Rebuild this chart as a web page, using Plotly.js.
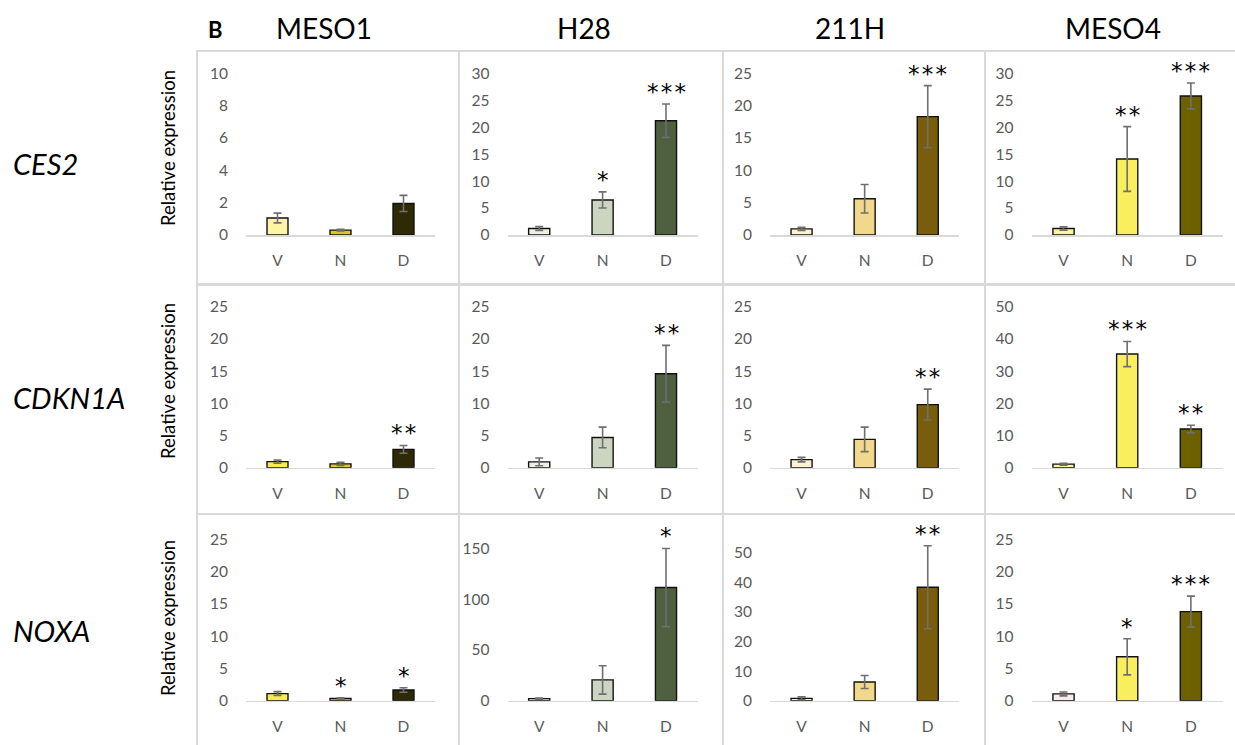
<!DOCTYPE html>
<html><head><meta charset="utf-8">
<script src="https://cdn.plot.ly/plotly-3.0.1.min.js"></script>
<style>html,body{margin:0;padding:0;background:#fff}#chart{width:1235px;height:745px}</style>
</head><body><div id="chart"></div>
<script>
// ---------- DATA ----------
const categories = ['V', 'N', 'D'];
const cellLines = ['MESO1', 'H28', '211H', 'MESO4'];
const genes = ['CES2', 'CDKN1A', 'NOXA'];

// per cell line: [V, N, D]
const ces2Values   = [[1.05, 0.3, 1.95], [1.2, 6.5, 21.2], [0.95, 5.6, 18.3], [1.2, 14.1, 25.8]];
const ces2Errors   = [[0.3, 0.05, 0.5], [0.35, 1.5, 3.1], [0.25, 2.2, 4.8], [0.3, 6.0, 2.4]];
const ces2Stars    = [['', '', ''], ['', '*', '***'], ['', '', '***'], ['', '**', '***']];
const ces2AxisMax  = [10, 30, 25, 30];
const ces2AxisStep = [2, 5, 5, 5];

const cdkn1aValues   = [[0.95, 0.6, 2.85], [0.9, 4.7, 14.6], [1.25, 4.4, 9.8], [1.1, 35.3, 12.0]];
const cdkn1aErrors   = [[0.25, 0.25, 0.6], [0.6, 1.6, 4.4], [0.35, 1.9, 2.4], [0.3, 3.9, 1.2]];
const cdkn1aStars    = [['', '', '**'], ['', '', '**'], ['', '', '**'], ['', '***', '**']];
const cdkn1aAxisMax  = [25, 25, 25, 50];
const cdkn1aAxisStep = [5, 5, 5, 10];

const noxaValues   = [[1.1, 0.35, 1.65], [2.0, 20.5, 111.5], [0.8, 6.3, 38.3], [1.05, 6.8, 13.8]];
const noxaErrors   = [[0.3, 0.1, 0.35], [0.5, 14.0, 38.5], [0.5, 2.2, 14.0], [0.3, 2.8, 2.4]];
const noxaStars    = [['', '*', '*'], ['', '', '*'], ['', '', '**'], ['', '*', '***']];
const noxaAxisMax  = [25, 159, 54.5, 25];
const noxaAxisStep = [5, 50, 10, 5];

const allValues = [ces2Values, cdkn1aValues, noxaValues];
const allErrors = [ces2Errors, cdkn1aErrors, noxaErrors];
const allStars  = [ces2Stars, cdkn1aStars, noxaStars];
const allMax    = [ces2AxisMax, cdkn1aAxisMax, noxaAxisMax];
const allStep   = [ces2AxisStep, cdkn1aAxisStep, noxaAxisStep];

// ---------- STYLE ----------
const W = 1235, H = 745;
const px = x => x / W;
const py = y => 1 - y / H;
const colDomains = [[246, 435], [507.5, 697.7], [770, 959.3], [1031.7, 1222.7]];
const rowDomains = [[235, 73.3], [467.7, 306.7], [700.7, 539.3]];
const barColors = [
  [['#FFF4A3', '#D8C81E', '#2E2A05'], ['#EEF0E8', '#CBD5C0', '#4F6040'], ['#FCF1D2', '#F2D88A', '#7A5D0C'], ['#FCF3A6', '#F9EE5E', '#6D6000']],
  [['#F9EC4E', '#DCCB2C', '#2E2A05'], ['#EEF0E8', '#CBD5C0', '#4F6040'], ['#FCF1D2', '#F2D88A', '#7A5D0C'], ['#FCF3A6', '#F9EE5E', '#6D6000']],
  [['#F8EA52', '#DCCB2C', '#2E2A05'], ['#EEF0E8', '#CBD5C0', '#4F6040'], ['#FCF1D2', '#F2D88A', '#7A5D0C'], ['#F7ECEC', '#F9EE5E', '#6D6000']]
];
const FONT = 'Lato, "Open Sans", sans-serif';
const tickFont = {family: FONT, size: 15.5, color: '#595959'};

const data = [];
const layout = {
  width: W, height: H,
  margin: {l: 0, r: 0, t: 0, b: 0},
  paper_bgcolor: '#ffffff', plot_bgcolor: 'rgba(0,0,0,0)',
  showlegend: false, bargap: 0.667,
  annotations: [], shapes: []
};

for (let r = 0; r < genes.length; r++) {
  for (let c = 0; c < cellLines.length; c++) {
    const n = r * 4 + c + 1;
    const xs = n === 1 ? 'x' : 'x' + n;
    const ys = n === 1 ? 'y' : 'y' + n;
    const vals = allValues[r][c], errs = allErrors[r][c];
    data.push({
      type: 'bar', x: categories, y: vals, xaxis: xs, yaxis: ys,
      marker: {color: barColors[r][c], line: {color: '#111111', width: 1.4}},
      error_y: {type: 'data', array: errs, visible: true, color: '#6f6f6f', thickness: 1.6, width: 4},
      hoverinfo: 'skip'
    });
    layout[n === 1 ? 'xaxis' : 'xaxis' + n] = {
      domain: [px(colDomains[c][0]), px(colDomains[c][1])], anchor: ys,
      type: 'category', showline: true, linecolor: '#d9d9d9', linewidth: 1.5,
      ticks: 'outside', ticklen: 11, tickcolor: 'rgba(0,0,0,0)',
      tickfont: tickFont, showgrid: false, zeroline: false, fixedrange: true
    };
    layout[n === 1 ? 'yaxis' : 'yaxis' + n] = {
      domain: [py(rowDomains[r][0]), py(rowDomains[r][1])], anchor: xs,
      range: [0, allMax[r][c]], tick0: 0, dtick: allStep[r][c],
      showline: false, showgrid: false, zeroline: false,
      ticks: 'outside', ticklen: 14, tickcolor: 'rgba(0,0,0,0)',
      tickfont: tickFont, fixedrange: true
    };
    allStars[r][c].forEach((s, i) => {
      if (!s) return;
      layout.annotations.push({
        xref: xs, yref: ys, x: categories[i], y: vals[i] + errs[i],
        text: s.split('').join('\u200A'), showarrow: false, yanchor: 'bottom', yshift: -3,
        font: {family: '"DejaVu Sans", sans-serif', size: 23, color: '#000000'}
      });
    });
  }
}

// panel borders
const colEdges = [[197, 459], [459, 723], [723, 985], [985, 1240]];
const rowEdges = [[51, 284], [285, 514], [514, 752]];
colEdges.forEach(ce => rowEdges.forEach(re => {
  layout.shapes.push({type: 'rect', xref: 'paper', yref: 'paper',
    x0: px(ce[0]), x1: px(ce[1]), y0: py(re[1]), y1: py(re[0]),
    line: {color: '#d9d9d9', width: 2}, fillcolor: 'rgba(0,0,0,0)', layer: 'below'});
}));

// column titles
const colTitleX = [324, 584, 850, 1113];
cellLines.forEach((t, i) => layout.annotations.push({
  xref: 'paper', yref: 'paper', x: px(colTitleX[i]), y: py(28), text: t, showarrow: false,
  xanchor: 'center', yanchor: 'middle', font: {family: FONT, size: 28, color: '#000'}
}));
layout.annotations.push({xref: 'paper', yref: 'paper', x: px(215), y: py(30), text: '<b>B</b>',
  showarrow: false, xanchor: 'center', yanchor: 'middle', font: {family: FONT, size: 22, color: '#000'}});

// row labels and y titles
const rowCenters = [163, 397, 630];
const yTitleCenters = [148, 381, 618];
genes.forEach((g, i) => {
  layout.annotations.push({xref: 'paper', yref: 'paper', x: px(11), y: py(rowCenters[i]), text: '<i>' + g + '</i>',
    showarrow: false, xanchor: 'left', yanchor: 'middle', font: {family: FONT, size: 29, color: '#000'}});
  layout.annotations.push({xref: 'paper', yref: 'paper', x: px(168), y: py(yTitleCenters[i]), text: 'Relative expression',
    showarrow: false, textangle: -90, xanchor: 'center', yanchor: 'middle', font: {family: FONT, size: 18.5, color: '#000'}});
});

Plotly.newPlot('chart', data, layout, {displayModeBar: false, staticPlot: true});
</script></body></html>
